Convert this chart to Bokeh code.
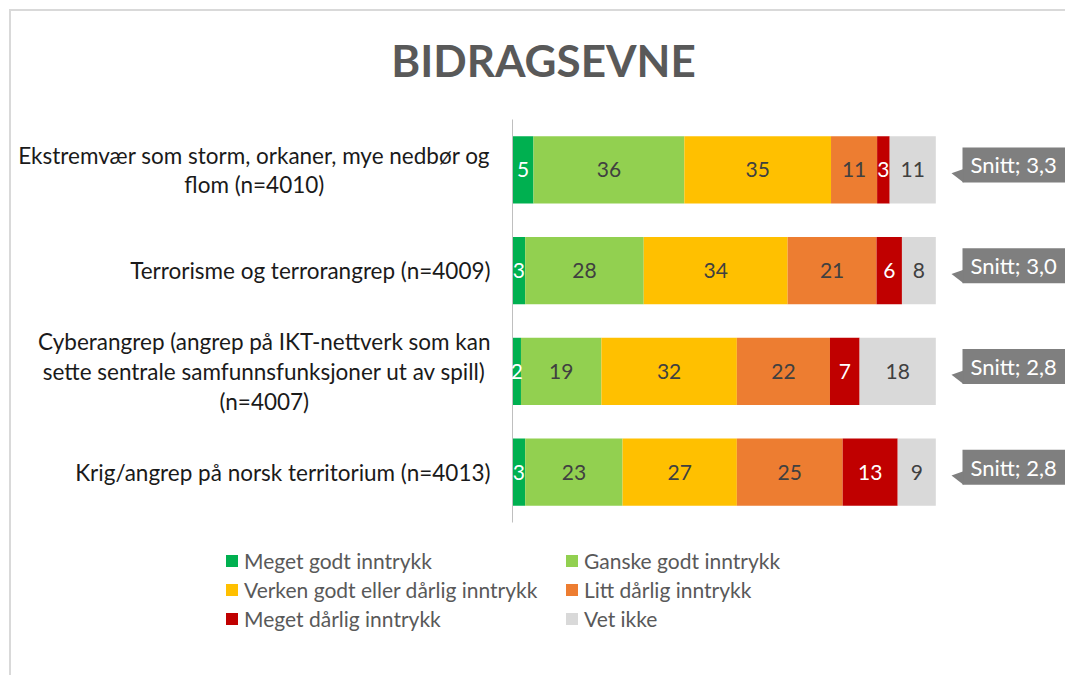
from bokeh.plotting import figure
from bokeh.models import ColumnDataSource, Range1d, Legend, LegendItem, Label
from bokeh.core.properties import value
from bokeh.embed import file_html
from bokeh.resources import INLINE

# ---------------- data ----------------
categories = [
    "Ekstremvær som storm, orkaner, mye nedbør og\nflom (n=4010)",
    "Terrorisme og terrorangrep (n=4009)",
    "Cyberangrep (angrep på IKT-nettverk som kan\nsette sentrale samfunnsfunksjoner ut av spill)\n(n=4007)",
    "Krig/angrep på norsk territorium (n=4013)",
]
series_names = [
    "Meget godt inntrykk",
    "Ganske godt inntrykk",
    "Verken godt eller dårlig inntrykk",
    "Litt dårlig inntrykk",
    "Meget dårlig inntrykk",
    "Vet ikke",
]
meget_godt = [5, 3, 2, 3]
ganske_godt = [36, 28, 19, 23]
verken = [35, 34, 32, 27]
litt_darlig = [11, 21, 22, 25]
meget_darlig = [3, 6, 7, 13]
vet_ikke = [11, 8, 18, 9]
snitt = [3.3, 3.0, 2.8, 2.8]
title_text = "BIDRAGSEVNE"

colors = ["#00B050", "#92D050", "#FFC000", "#ED7D31", "#C00000", "#D9D9D9"]
label_colors = ["#FFFFFF", "#404040", "#404040", "#404040", "#FFFFFF", "#404040"]
FONT = "Lato"

series = [meget_godt, ganske_godt, verken, litt_darlig, meget_darlig, vet_ikke]
keys = ["s%d" % i for i in range(len(series))]
n = len(categories)

# ---------------- geometry (page pixels) ----------------
CANVAS_X0, CANVAS_Y0 = 11, 11
W, H = 1067 - CANVAS_X0, 666
CANVAS_B = CANVAS_Y0 + H
BAR_L, BAR_T, BAR_B = 512, 119, 522          # plot area of the bars
PX_PER_UNIT = 423.3 / 100.0
PY_PER_UNIT = (BAR_B - BAR_T) / n

def xu(px):
    return (px - BAR_L) / PX_PER_UNIT

x_start, x_end = xu(CANVAS_X0), xu(CANVAS_X0 + W)
y_start = -(CANVAS_B - BAR_B) / PY_PER_UNIT
y_end = n + (BAR_T - CANVAS_Y0) / PY_PER_UNIT

# normalised (100 % stacked) values, category positions (top first)
totals = [sum(s[j] for s in series) for j in range(n)]
ypos = [n - j - 0.5 for j in range(n)]
data = {"y": ypos, "cat": categories}
for k, s in zip(keys, series):
    data[k] = [v / t * 100 for v, t in zip(s, totals)]
src = ColumnDataSource(data)

p = figure(
    width=W, height=H,
    x_range=Range1d(x_start, x_end), y_range=Range1d(y_start, y_end),
    x_axis_location=None, y_axis_location=None,
    output_backend="svg", toolbar_location=None, title=None,
    min_border=0,
)
p.styles = {"margin-left": "9px", "margin-top": "9px",
            "border-left": "2px solid #D9D9D9", "border-top": "2px solid #D9D9D9"}
p.outline_line_color = None
p.xgrid.visible = False
p.ygrid.visible = False

renderers = p.hbar_stack(keys, y="y", height=0.667, color=colors,
                         line_color=None, source=src)

# category axis: line + centred multi-line labels
p.segment(x0=0, y0=0, x1=0, y1=n, line_color="#BFBFBF", line_width=1)
p.text(x=xu(490), y="y", text="cat", source=src,
       anchor=value("center_right"), text_align="center", text_baseline="middle",
       text_font=value(FONT), text_font_size="22.5px", text_line_height=1.1,
       text_color="#1A1A1A")

# data labels
lx, ly, lt, lc = [], [], [], []
for j in range(n):
    cum = 0.0
    for i, k in enumerate(keys):
        v = data[k][j]
        lx.append(cum + v / 2)
        ly.append(ypos[j])
        lt.append(str(series[i][j]))
        lc.append(label_colors[i])
        cum += v
p.text(x="x", y="y", text="t", text_color="c",
       source=ColumnDataSource(dict(x=lx, y=ly, t=lt, c=lc)),
       text_align="center", text_baseline="middle",
       text_font=value(FONT), text_font_size="21px")

# callouts "Snitt; x,x"
box_c = [c + 5 / PY_PER_UNIT for c in ypos]
half = 17.5 / PY_PER_UNIT
p.quad(left=xu(962), right=x_end + 5, bottom=[b - half for b in box_c],
       top=[b + half for b in box_c], fill_color="#7F7F7F", line_color=None)
p.patches(
    xs=[[xu(951), xu(963), xu(963)] for _ in box_c],
    ys=[[b - 8.4 / PY_PER_UNIT, b - 4 / PY_PER_UNIT, b - half] for b in box_c],
    fill_color="#7F7F7F", line_color=None)
p.text(x=xu(970), y=box_c,
       text=["Snitt; " + ("%.1f" % v).replace(".", ",") for v in snitt],
       text_color="#FFFFFF", text_align="left", text_baseline="middle",
       text_font=value(FONT), text_font_size="22px")

# title
p.add_layout(Label(x=543 - CANVAS_X0, y=CANVAS_B - 59, x_units="screen", y_units="screen",
                   text=title_text, text_align="center", text_baseline="alphabetic",
                   text_font=FONT, text_font_size="44px", text_font_style="bold",
                   text_color="#595959"))

# legends (two columns)
def make_legend(idx, x_left):
    lg = Legend(items=[LegendItem(label=series_names[i], renderers=[renderers[i]]) for i in idx],
                location=(x_left - CANVAS_X0, CANVAS_B - 631),
                orientation="vertical", border_line_color=None,
                background_fill_alpha=0, padding=0, margin=0, spacing=4,
                label_height=24, glyph_width=15, glyph_height=15, label_standoff=5,
                label_text_font=FONT, label_text_font_size="21px",
                label_text_color="#595959")
    p.add_layout(lg, "center")

make_legend([0, 2, 4], 224)
make_legend([1, 3, 5], 564)

open("out.html", "w").write(file_html(p, INLINE))
